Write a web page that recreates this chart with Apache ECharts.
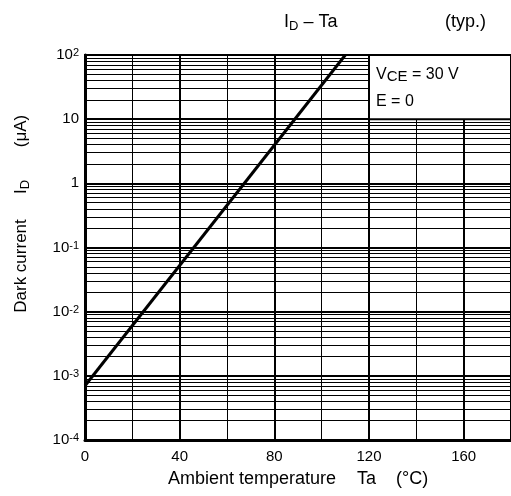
<!DOCTYPE html>
<html>
<head>
<meta charset="utf-8">
<script src="https://cdn.jsdelivr.net/npm/echarts@6/dist/echarts.min.js"></script>
<style>html,body{margin:0;padding:0;background:#fff}#c{width:511px;height:496px}</style>
</head>
<body>
<div id="c"></div>
<script>
// ---- data ----
const curveTemp = [0, 110];            // Ta (°C)
const curveCurrent = [7e-4, 100];      // ID (µA)
const xTickLabels = [0, 40, 80, 120, 160];
const yTickExponents = [-4, -3, -2, -1, 0, 1, 2];
const minorMultipliers = [2, 3, 4, 5, 6, 7, 8, 9];
const majorXLines = [40, 80, 120, 160];
const xRange = [0, 180];
const boxTempRange = [120, 180];
const boxCurrentRange = [10, 100];
const noteLines = ['V{sub|CE} = 30 V', 'E = 0'];

const FONT = '"Liberation Sans", Arial, sans-serif';

const minorYValues = [];
yTickExponents.slice(0, -1).forEach(e => {
  minorMultipliers.forEach(m => minorYValues.push(m * Math.pow(10, e)));
});

function yLabel(v) {
  const e = Math.round(Math.log10(v));
  if (e === 0) return '1';
  if (e === 1) return '10';
  return '10{sup|' + e + '}';
}

const chart = echarts.init(document.getElementById('c'), null, {renderer: 'canvas'});
chart.setOption({
  backgroundColor: '#fff',
  animation: false,
  grid: {left: 85, top: 55, right: -2, bottom: 56, show: true, borderColor: '#000', borderWidth: 2, backgroundColor: 'transparent'},
  xAxis: {
    type: 'value', min: xRange[0], max: xRange[1], interval: 20,
    axisLine: {show: true, onZero: false, lineStyle: {color: '#000', width: 3}},
    axisTick: {show: false},
    splitLine: {show: true, lineStyle: {color: '#000', width: 1}},
    axisLabel: {
      color: '#000', fontSize: 15, fontFamily: FONT, margin: 9,
      showMaxLabel: false,
      formatter: v => xTickLabels.indexOf(v) >= 0 ? String(v) : ''
    }
  },
  yAxis: {
    type: 'log', logBase: 10, min: 1e-4, max: 100, splitNumber: 6,
    axisLine: {show: true, lineStyle: {color: '#000', width: 3}},
    axisTick: {show: false},
    splitLine: {show: true, lineStyle: {color: '#000', width: 2}},
    axisLabel: {
      color: '#000', fontSize: 15, fontFamily: FONT, margin: 6,
      formatter: yLabel,
      rich: {sup: {fontSize: 11, fontFamily: FONT, color: '#000', verticalAlign: 'top', lineHeight: 11, padding: [0, 0, 10, 0]}}
    }
  },
  graphic: [
    {type: 'text', left: 284, top: 13, style: {text: 'I{sub|D} – Ta', font: '18px ' + FONT, fill: '#000',
      rich: {sub: {fontSize: 13, fontFamily: FONT, fill: '#000', padding: [8, 0, 0, 0]}}}},
    {type: 'text', left: 445, top: 13, style: {text: '(typ.)', font: '18px ' + FONT, fill: '#000'}},
    {type: 'text', x: 168, y: 479, style: {text: 'Ambient temperature', font: '18px ' + FONT, fill: '#000', align: 'left', verticalAlign: 'middle'}},
    {type: 'text', x: 357, y: 479, style: {text: 'Ta', font: '18px ' + FONT, fill: '#000', align: 'left', verticalAlign: 'middle'}},
    {type: 'text', x: 396, y: 479, style: {text: '(°C)', font: '18px ' + FONT, fill: '#000', align: 'left', verticalAlign: 'middle'}},
    {type: 'text', x: 21, y: 266, rotation: Math.PI / 2,
      style: {text: 'Dark current', font: '17px ' + FONT, fill: '#000', align: 'center', verticalAlign: 'middle'}},
    {type: 'text', x: 21, y: 187, rotation: Math.PI / 2,
      style: {text: 'I{sub|D}', font: '17px ' + FONT, fill: '#000', align: 'center', verticalAlign: 'middle',
        rich: {sub: {fontSize: 13, fontFamily: FONT, fill: '#000', padding: [8, 0, 0, 0]}}}},
    {type: 'text', x: 21, y: 131, rotation: Math.PI / 2,
      style: {text: '(μA)', font: '17px ' + FONT, fill: '#000', align: 'center', verticalAlign: 'middle'}}
  ],
  series: [
    {
      type: 'line', data: [], z: 1, silent: true,
      markLine: {
        silent: true, symbol: 'none', label: {show: false}, z: 1,
        lineStyle: {color: '#000', width: 1, type: 'solid'},
        data: minorYValues.map(v => [{coord: [xRange[0], v]}, {coord: [xRange[1], v]}])
          .concat(majorXLines.map(v => ({xAxis: v, lineStyle: {color: '#000', width: 2, type: 'solid'}})))
      }
    },
    {
      type: 'line', data: [], z: 5, silent: true,
      markArea: {
        silent: true, z: 20,
        itemStyle: {color: '#fff', opacity: 1, borderColor: '#000', borderWidth: 2},
        label: {
          show: true, position: 'insideTopLeft', distance: 0, padding: [7, 0, 0, 8],
          formatter: noteLines.join('\n'),
          color: '#000', fontSize: 16, fontFamily: FONT, lineHeight: 27,
          rich: {sub: {fontSize: 15, fontFamily: FONT, color: '#000', lineHeight: 27, padding: [4, 0, 0, 0]}}
        },
        data: [[{xAxis: boxTempRange[0], yAxis: boxCurrentRange[0]}, {xAxis: boxTempRange[1], yAxis: boxCurrentRange[1]}]]
      }
    },
    {
      type: 'line', z: 10, symbol: 'none', silent: true,
      lineStyle: {color: '#000', width: 3},
      data: curveTemp.map((t, i) => [t, curveCurrent[i]])
    }
  ]
});
</script>
</body>
</html>
